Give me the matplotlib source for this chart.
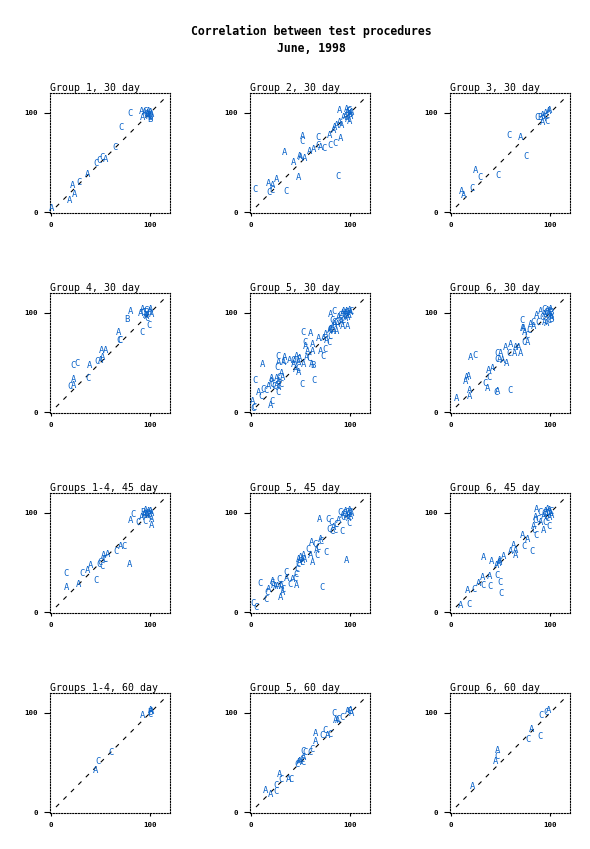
import matplotlib
matplotlib.use("Agg")
import matplotlib.pyplot as plt

# points as (x, y, symbol) for each panel
g1_30 = [(1, 4, 'A'), (19, 12, 'A'), (24, 18, 'A'), (22, 27, 'A'), (28, 30, 'C'),
         (37, 38, 'A'), (45, 49, 'C'), (48, 52, 'C'), (52, 55, 'C'), (55, 53, 'A'),
         (65, 65, 'C'), (71, 85, 'C'), (80, 99, 'C'), (91, 101, 'A'), (92, 95, 'A'),
         (94, 100, 'A'), (95, 101, 'C'), (97, 99, 'A'), (98, 101, 'A'), (99, 97, 'C'),
         (100, 95, 'B'), (100, 100, 'A'), (98, 96, 'A'), (96, 98, 'C'), (100, 93, 'B'),
         (101, 98, 'A'), (97, 97, 'A')]

g2_30 = [(4, 23, 'C'), (18, 20, 'C'), (18, 29, 'A'), (21, 22, 'C'), (22, 27, 'A'),
         (26, 33, 'A'), (35, 21, 'C'), (34, 60, 'A'), (43, 50, 'A'), (48, 35, 'A'),
         (49, 56, 'A'), (50, 55, 'A'), (54, 54, 'A'), (52, 76, 'A'), (51, 71, 'C'),
         (59, 61, 'A'), (63, 63, 'A'), (68, 75, 'C'), (68, 67, 'C'), (70, 65, 'A'),
         (74, 64, 'C'), (80, 67, 'C'), (85, 69, 'C'), (90, 74, 'A'), (88, 36, 'C'),
         (79, 77, 'A'), (83, 82, 'A'), (84, 85, 'A'), (86, 87, 'A'), (89, 90, 'A'),
         (91, 87, 'A'), (89, 102, 'A'), (93, 95, 'A'), (96, 103, 'A'), (97, 100, 'A'),
         (98, 101, 'C'), (99, 98, 'A'), (100, 96, 'A'), (95, 96, 'A'), (101, 100, 'A'),
         (97, 93, 'A'), (99, 102, 'C'), (100, 99, 'A'), (99, 91, 'A')]

g3_30 = [(11, 21, 'A'), (13, 17, 'A'), (21, 24, 'C'), (25, 42, 'A'), (29, 35, 'C'),
         (47, 37, 'C'), (59, 77, 'C'), (70, 75, 'A'), (76, 56, 'C'), (87, 95, 'C'),
         (90, 95, 'B'), (92, 97, 'A'), (93, 94, 'A'), (95, 99, 'A'), (96, 96, 'C'),
         (97, 91, 'C'), (98, 101, 'A'), (99, 102, 'A'), (92, 90, 'A')]

g4_30 = [(19, 26, 'C'), (23, 27, 'A'), (23, 33, 'A'), (37, 34, 'C'), (22, 47, 'C'),
         (26, 49, 'C'), (39, 47, 'A'), (46, 51, 'C'), (50, 52, 'A'), (52, 55, 'A'),
         (51, 62, 'A'), (55, 62, 'A'), (68, 80, 'A'), (69, 72, 'C'), (70, 72, 'C'),
         (80, 101, 'A'), (77, 93, 'B'), (92, 80, 'C'), (99, 87, 'C'), (92, 103, 'A'),
         (96, 102, 'C'), (90, 99, 'A'), (93, 100, 'C'), (95, 97, 'A'), (97, 94, 'C'),
         (99, 101, 'A'), (100, 103, 'A'), (101, 98, 'A'), (96, 100, 'B'), (96, 96, 'A')]

g5_30 = [(2, 4, 'C'), (3, 5, 'C'), (2, 11, 'A'), (20, 7, 'A'), (21, 11, 'C'),
         (8, 20, 'A'), (10, 16, 'C'), (12, 23, 'C'), (15, 22, 'C'), (18, 26, 'A'),
         (21, 34, 'A'), (21, 31, 'A'), (21, 28, 'C'), (23, 26, 'C'), (26, 34, 'A'),
         (28, 35, 'C'), (28, 31, 'A'), (28, 25, 'A'), (27, 20, 'C'), (26, 27, 'A'),
         (30, 28, 'C'), (4, 32, 'C'), (12, 48, 'A'), (26, 45, 'C'), (27, 56, 'C'),
         (28, 50, 'A'), (33, 50, 'A'), (34, 55, 'A'), (33, 51, 'C'), (31, 39, 'A'),
         (32, 35, 'A'), (39, 52, 'A'), (43, 48, 'A'), (44, 51, 'A'), (42, 52, 'C'),
         (46, 56, 'A'), (47, 53, 'C'), (48, 50, 'A'), (49, 54, 'A'), (47, 44, 'C'),
         (45, 43, 'A'), (48, 40, 'A'), (53, 48, 'A'), (52, 28, 'C'), (64, 32, 'C'),
         (53, 80, 'C'), (60, 79, 'A'), (55, 70, 'C'), (55, 66, 'A'), (57, 61, 'A'),
         (59, 54, 'C'), (62, 61, 'A'), (62, 68, 'A'), (56, 55, 'A'), (61, 48, 'A'),
         (62, 47, 'B'), (68, 74, 'A'), (70, 61, 'A'), (73, 56, 'C'), (75, 63, 'C'),
         (73, 74, 'A'), (76, 72, 'A'), (79, 70, 'C'), (80, 76, 'C'), (75, 78, 'A'),
         (80, 98, 'A'), (84, 101, 'C'), (82, 92, 'C'), (80, 83, 'A'), (83, 81, 'A'),
         (86, 81, 'A'), (87, 88, 'A'), (84, 90, 'C'), (92, 86, 'A'), (97, 86, 'A'),
         (90, 93, 'C'), (88, 95, 'A'), (90, 97, 'C'), (92, 99, 'A'), (93, 101, 'A'),
         (94, 97, 'C'), (95, 99, 'A'), (96, 101, 'A'), (97, 100, 'C'), (98, 98, 'A'),
         (99, 102, 'A'), (100, 100, 'A'), (101, 101, 'C'), (95, 94, 'A'), (93, 92, 'C'),
         (97, 95, 'A'), (99, 97, 'C'), (91, 90, 'A'), (86, 90, 'C'), (84, 88, 'A'),
         (82, 85, 'A'), (80, 83, 'C'), (79, 82, 'A')]

g6_30 = [(6, 14, 'A'), (19, 16, 'A'), (19, 22, 'A'), (37, 24, 'A'), (34, 29, 'C'),
         (45, 20, 'C'), (47, 21, 'A'), (60, 22, 'C'), (15, 31, 'A'), (18, 36, 'A'),
         (16, 35, 'A'), (38, 35, 'C'), (38, 42, 'A'), (42, 44, 'A'), (20, 55, 'A'),
         (24, 57, 'C'), (46, 53, 'C'), (49, 53, 'A'), (52, 52, 'A'), (56, 49, 'A'),
         (46, 59, 'C'), (50, 59, 'A'), (55, 65, 'A'), (59, 59, 'C'), (64, 59, 'A'),
         (60, 68, 'A'), (65, 65, 'A'), (68, 65, 'A'), (70, 59, 'A'), (74, 70, 'C'),
         (77, 70, 'A'), (77, 77, 'C'), (72, 84, 'A'), (73, 84, 'A'), (72, 92, 'C'),
         (74, 80, 'A'), (79, 82, 'C'), (80, 88, 'A'), (83, 86, 'A'), (83, 90, 'C'),
         (86, 97, 'A'), (88, 90, 'C'), (90, 101, 'A'), (94, 90, 'A'), (96, 89, 'A'),
         (94, 103, 'C'), (92, 95, 'C'), (94, 98, 'A'), (95, 96, 'A'), (96, 100, 'C'),
         (97, 102, 'A'), (98, 99, 'A'), (99, 101, 'C'), (100, 103, 'A'), (100, 97, 'A'),
         (101, 95, 'A'), (101, 100, 'B'), (99, 92, 'C'), (101, 93, 'B')]

g14_45 = [(16, 25, 'A'), (15, 39, 'C'), (28, 28, 'A'), (31, 39, 'C'), (37, 42, 'A'),
          (40, 47, 'A'), (45, 32, 'C'), (48, 48, 'C'), (49, 50, 'C'), (52, 46, 'C'),
          (53, 57, 'A'), (57, 58, 'A'), (55, 53, 'C'), (54, 53, 'C'), (66, 61, 'C'),
          (70, 66, 'A'), (74, 66, 'C'), (79, 48, 'A'), (80, 92, 'A'), (83, 98, 'C'),
          (88, 90, 'C'), (91, 95, 'A'), (95, 91, 'C'), (94, 97, 'A'), (101, 93, 'A'),
          (101, 87, 'A'), (93, 100, 'B'), (95, 102, 'A'), (97, 99, 'C'), (98, 101, 'A'),
          (99, 98, 'B'), (100, 101, 'A'), (101, 99, 'A'), (96, 97, 'A'), (100, 96, 'C'),
          (94, 98, 'A')]

g5_45 = [(2, 9, 'C'), (5, 5, 'C'), (15, 13, 'C'), (16, 20, 'C'), (18, 23, 'A'),
         (9, 29, 'C'), (30, 15, 'A'), (32, 20, 'A'), (32, 23, 'C'), (22, 31, 'A'),
         (21, 29, 'C'), (23, 27, 'A'), (25, 26, 'A'), (28, 33, 'C'), (27, 26, 'A'),
         (30, 27, 'C'), (31, 26, 'A'), (35, 40, 'C'), (36, 34, 'A'), (39, 28, 'C'),
         (42, 33, 'A'), (44, 34, 'C'), (46, 27, 'A'), (45, 38, 'C'), (46, 43, 'C'),
         (47, 48, 'C'), (48, 53, 'A'), (49, 50, 'A'), (50, 55, 'A'), (52, 52, 'A'),
         (53, 57, 'A'), (51, 50, 'C'), (54, 53, 'A'), (62, 50, 'A'), (60, 57, 'A'),
         (61, 70, 'A'), (58, 63, 'C'), (67, 57, 'C'), (66, 62, 'A'), (65, 68, 'C'),
         (68, 65, 'C'), (70, 73, 'A'), (71, 71, 'C'), (76, 60, 'C'), (96, 52, 'A'),
         (72, 25, 'C'), (69, 93, 'A'), (79, 83, 'C'), (78, 93, 'C'), (81, 90, 'C'),
         (82, 81, 'C'), (85, 82, 'C'), (92, 81, 'C'), (83, 85, 'A'), (86, 88, 'C'),
         (88, 92, 'A'), (90, 100, 'C'), (99, 89, 'C'), (92, 97, 'A'), (94, 99, 'C'),
         (95, 101, 'A'), (96, 96, 'A'), (97, 100, 'C'), (98, 98, 'A'), (99, 102, 'A'),
         (100, 100, 'C'), (100, 96, 'A'), (101, 99, 'A'), (93, 95, 'C'), (98, 94, 'A')]

g6_45 = [(10, 7, 'A'), (18, 8, 'C'), (17, 22, 'A'), (23, 23, 'C'), (28, 29, 'A'),
         (32, 27, 'C'), (39, 26, 'C'), (49, 30, 'C'), (50, 19, 'C'), (46, 37, 'C'),
         (32, 35, 'A'), (39, 36, 'A'), (33, 55, 'A'), (41, 51, 'A'), (46, 47, 'A'),
         (48, 49, 'A'), (49, 52, 'A'), (49, 50, 'A'), (53, 56, 'A'), (60, 61, 'A'),
         (63, 67, 'A'), (65, 57, 'A'), (65, 62, 'A'), (74, 66, 'C'), (82, 61, 'C'),
         (72, 77, 'A'), (77, 73, 'A'), (86, 77, 'C'), (84, 82, 'C'), (93, 82, 'A'),
         (83, 86, 'A'), (85, 92, 'C'), (86, 103, 'A'), (90, 100, 'C'), (85, 95, 'A'),
         (88, 93, 'C'), (90, 90, 'A'), (95, 90, 'C'), (99, 86, 'C'), (101, 97, 'A'),
         (93, 96, 'A'), (94, 99, 'C'), (95, 101, 'A'), (96, 98, 'A'), (97, 103, 'A'),
         (98, 100, 'C'), (99, 102, 'A'), (100, 99, 'A'), (101, 101, 'C'), (97, 94, 'C'),
         (99, 95, 'A')]

g14_60 = [(45, 42, 'A'), (47, 51, 'C'), (61, 60, 'C'), (92, 97, 'A'), (100, 100, 'B'),
          (100, 102, 'A'), (100, 98, 'C'), (101, 101, 'A')]

g5_60 = [(15, 22, 'A'), (20, 18, 'A'), (25, 21, 'C'), (25, 27, 'C'), (29, 38, 'A'),
         (30, 33, 'C'), (38, 33, 'A'), (40, 33, 'C'), (46, 48, 'C'), (48, 50, 'A'),
         (49, 51, 'A'), (51, 53, 'C'), (53, 55, 'A'), (53, 50, 'C'), (53, 61, 'C'),
         (55, 60, 'C'), (60, 60, 'C'), (62, 63, 'C'), (65, 71, 'A'), (65, 79, 'A'),
         (72, 77, 'C'), (75, 82, 'C'), (77, 77, 'A'), (80, 78, 'C'), (84, 99, 'C'),
         (85, 92, 'A'), (87, 92, 'A'), (88, 93, 'C'), (92, 95, 'C'), (97, 101, 'A'),
         (100, 102, 'A'), (101, 99, 'A'), (99, 101, 'C')]

g6_60 = [(22, 26, 'A'), (45, 51, 'A'), (46, 56, 'C'), (47, 62, 'A'), (81, 83, 'A'),
         (78, 73, 'C'), (90, 76, 'C'), (91, 97, 'C'), (96, 100, 'C'), (98, 102, 'A')]

panel_data = [g1_30, g2_30, g3_30, g4_30, g5_30, g6_30,
              g14_45, g5_45, g6_45, g14_60, g5_60, g6_60]
panel_titles = ["Group 1, 30 day", "Group 2, 30 day", "Group 3, 30 day",
                "Group 4, 30 day", "Group 5, 30 day", "Group 6, 30 day",
                "Groups 1-4, 45 day", "Group 5, 45 day", "Group 6, 45 day",
                "Groups 1-4, 60 day", "Group 5, 60 day", "Group 6, 60 day"]
tick_vals = [0, 100]
tick_labels = ["0", "100"]

MONO = "DejaVu Sans Mono"
BLUE = "#0a63c9"
W, H = 590, 849

fig = plt.figure(figsize=(W / 100, H / 100), dpi=100)
fig.text(311 / W, 1 - 31 / H, "Correlation between test procedures",
         ha="center", va="center", family=MONO, fontsize=8.3, weight="bold")
fig.text(311 / W, 1 - 48 / H, "June, 1998",
         ha="center", va="center", family=MONO, fontsize=8.3, weight="bold")

for i, (pts, title) in enumerate(zip(panel_data, panel_titles)):
    row, col = divmod(i, 3)
    left = 50 + 200 * col
    bottom = 213 + 200 * row
    ax = fig.add_axes([left / W, 1 - bottom / H, 120 / W, 120 / H])
    ax.set_xlim(-1, 120)
    ax.set_ylim(-1, 120)

    # reference line y = x
    ax.plot([5, 117], [5, 117], color="black", lw=0.8, dashes=(4, 5.5))

    for x, y, s in pts:
        ax.text(x, y, s, ha="center", va="center", color=BLUE,
                family=MONO, fontsize=6.4)

    for sp in ax.spines.values():
        sp.set_linestyle((0, (1, 1.5)))
        sp.set_linewidth(0.8)

    ax.set_xticks(tick_vals)
    ax.set_yticks(tick_vals)
    ax.set_xticklabels(tick_labels, family=MONO, fontsize=5.3, weight="bold")
    ax.set_yticklabels(tick_labels, family=MONO, fontsize=5.3, weight="bold")
    ax.tick_params(axis="y", direction="out", length=4, width=0.8, pad=5)
    ax.tick_params(axis="x", direction="out", length=2.5, width=0.8, pad=4)

    ax.set_title(title, loc="left", family=MONO, fontsize=7.1, pad=1)

fig.savefig("out.png", dpi=100)
